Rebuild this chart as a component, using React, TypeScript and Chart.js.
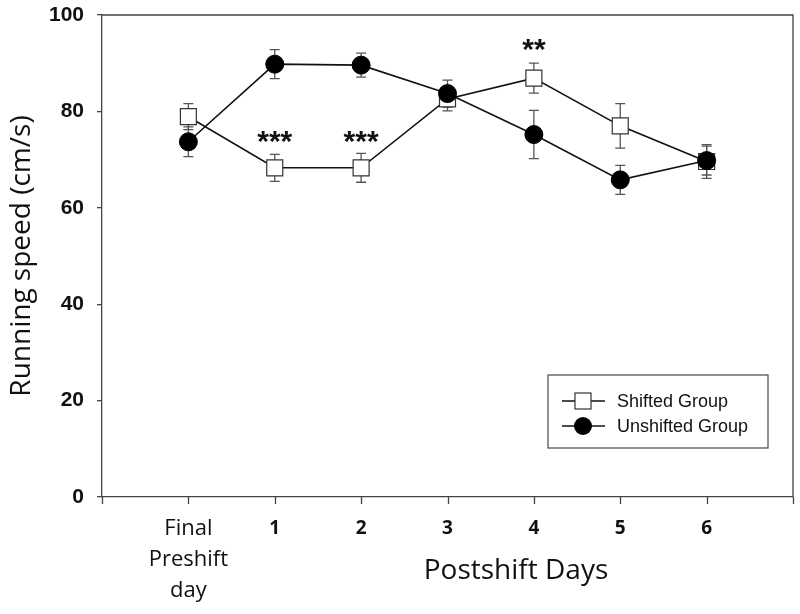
import React, { useEffect, useRef } from "react";
import { Chart, registerables } from "chart.js";

Chart.register(...registerables);

const categories: string[][] = [["Final", "Preshift", "day"], ["1"], ["2"], ["3"], ["4"], ["5"], ["6"]];
const shiftedLabel = "Shifted Group";
const unshiftedLabel = "Unshifted Group";
const shifted = [78.9, 68.3, 68.3, 82.6, 86.9, 77.0, 69.6];
const shiftedErr = [2.7, 2.8, 3.0, 2.5, 3.1, 4.6, 3.5];
const unshifted = [73.7, 89.8, 89.6, 83.7, 75.2, 65.8, 69.8];
const unshiftedErr = [3.1, 3.0, 2.5, 2.8, 5.0, 3.0, 3.0];
const yTicks = [0, 20, 40, 60, 80, 100];
const annotations = [
  { index: 1, y: 74.7, text: "***" },
  { index: 2, y: 74.7, text: "***" },
  { index: 4, y: 93.8, text: "**" },
];
const xTitle = "Postshift Days";
const yTitle = "Running speed (cm/s)";

const AXIS = "#444";
const ERR = "#555";

export default function App() {
  const ref = useRef<HTMLCanvasElement | null>(null);
  useEffect(() => {
    document.body.style.margin = "0";
    document.body.style.overflow = "hidden";
    const canvas = ref.current;
    if (!canvas) return;
    const xOf = (i: number) => i + 1;

    const errorBars = {
      id: "errorBars",
      beforeDatasetsDraw(chart: any) {
        const ctx = chart.ctx;
        const xs = chart.scales.x;
        const ys = chart.scales.y;
        const sets = [
          { v: shifted, e: shiftedErr },
          { v: unshifted, e: unshiftedErr },
        ];
        ctx.save();
        ctx.strokeStyle = ERR;
        ctx.lineWidth = 1.3;
        sets.forEach((s) => {
          s.v.forEach((v, i) => {
            const x = xs.getPixelForValue(xOf(i));
            const yt = ys.getPixelForValue(v + s.e[i]);
            const yb = ys.getPixelForValue(v - s.e[i]);
            ctx.beginPath();
            ctx.moveTo(x, yt);
            ctx.lineTo(x, yb);
            ctx.moveTo(x - 5, yt);
            ctx.lineTo(x + 5, yt);
            ctx.moveTo(x - 5, yb);
            ctx.lineTo(x + 5, yb);
            ctx.stroke();
          });
        });
        ctx.restore();
      },
      afterDraw(chart: any) {
        const ctx = chart.ctx;
        const a = chart.chartArea;
        const xs = chart.scales.x;
        const ys = chart.scales.y;
        ctx.save();
        // top and right frame
        ctx.strokeStyle = AXIS;
        ctx.lineWidth = 1.3;
        ctx.beginPath();
        ctx.moveTo(a.left, a.top);
        ctx.lineTo(a.right, a.top);
        ctx.lineTo(a.right, a.bottom);
        ctx.stroke();
        // x tick marks
        ctx.beginPath();
        xs.ticks.forEach((t: any) => {
          const x = Math.round(xs.getPixelForValue(t.value)) + 0.5;
          ctx.moveTo(x, a.bottom);
          ctx.lineTo(x, a.bottom + 7);
        });
        ctx.stroke();
        // annotations
        ctx.fillStyle = "#111";
        ctx.font = "bold 30px 'Liberation Sans', Arial, sans-serif";
        ctx.textAlign = "center";
        ctx.textBaseline = "alphabetic";
        annotations.forEach((an) => {
          const m = ctx.measureText(an.text);
          const cy = ys.getPixelForValue(an.y);
          const base = cy + (m.actualBoundingBoxAscent - m.actualBoundingBoxDescent) / 2;
          ctx.fillText(an.text, xs.getPixelForValue(xOf(an.index)), base);
        });
        // x title
        ctx.fillStyle = "#111";
        ctx.font = "28px 'Open Sans', sans-serif";
        ctx.textBaseline = "middle";
        ctx.fillText(xTitle, 516, 571);
        // legend
        const lx = 548, ly = 375, lw = 220, lh = 73;
        ctx.fillStyle = "#fff";
        ctx.fillRect(lx, ly, lw, lh);
        ctx.strokeStyle = "#555";
        ctx.lineWidth = 1.3;
        ctx.strokeRect(lx, ly, lw, lh);
        const rows = [
          { y: 401, label: shiftedLabel, sq: true },
          { y: 426, label: unshiftedLabel, sq: false },
        ];
        rows.forEach((r) => {
          ctx.strokeStyle = "#111";
          ctx.lineWidth = 1.5;
          ctx.beginPath();
          ctx.moveTo(562, r.y);
          ctx.lineTo(605, r.y);
          ctx.stroke();
          if (r.sq) {
            ctx.fillStyle = "#fff";
            ctx.fillRect(575, r.y - 8, 16, 16);
            ctx.strokeStyle = "#333";
            ctx.lineWidth = 1.2;
            ctx.strokeRect(575, r.y - 8, 16, 16);
          } else {
            ctx.fillStyle = "#000";
            ctx.beginPath();
            ctx.arc(583, r.y, 9, 0, Math.PI * 2);
            ctx.fill();
          }
          ctx.fillStyle = "#111";
          ctx.font = "18px 'Liberation Sans', Arial, sans-serif";
          ctx.textAlign = "left";
          ctx.textBaseline = "middle";
          ctx.fillText(r.label, 617, r.y + 1);
        });
        ctx.restore();
      },
    };

    const chart = new Chart(canvas, {
      type: "line",
      data: {
        datasets: [
          {
            label: shiftedLabel,
            data: shifted.map((v, i) => ({ x: xOf(i), y: v })),
            borderColor: "#111",
            borderWidth: 1.6,
            pointStyle: "rect",
            pointRadius: 11.3,
            pointBackgroundColor: "#fff",
            pointBorderColor: "#333",
            pointBorderWidth: 1.2,
            order: 1,
          },
          {
            label: unshiftedLabel,
            data: unshifted.map((v, i) => ({ x: xOf(i), y: v })),
            borderColor: "#111",
            borderWidth: 1.6,
            pointStyle: "circle",
            pointRadius: 9,
            pointBackgroundColor: "#000",
            pointBorderColor: "#000",
            pointBorderWidth: 1,
            order: 0,
          },
        ],
      },
      options: {
        animation: false,
        responsive: true,
        maintainAspectRatio: false,
        layout: { autoPadding: false, padding: { left: 0, top: 15, right: 7, bottom: 0 } },
        plugins: { legend: { display: false }, tooltip: { enabled: false } },
        scales: {
          x: {
            type: "linear",
            min: 0,
            max: categories.length + 1,
            afterFit(scale: any) {
              scale.height = 117;
              scale.paddingLeft = 0;
              scale.paddingRight = 0;
            },
            afterBuildTicks(scale: any) {
              const t = [];
              for (let i = 0; i <= categories.length + 1; i++) t.push({ value: i });
              scale.ticks = t;
            },
            border: { display: true, color: AXIS, width: 1.3 },
            grid: { drawOnChartArea: false, drawTicks: true, tickLength: 16, color: AXIS, tickColor: "rgba(0,0,0,0)", lineWidth: 1.3 },
            ticks: {
              autoSkip: false,
              maxRotation: 0,
              padding: 0,
              color: "#111",
              callback: (v: any) => {
                const i = Number(v) - 1;
                return i >= 0 && i < categories.length ? categories[i] : "";
              },
              font: (ctx: any) => {
                const v = ctx.tick ? ctx.tick.value : 0;
                if (v === 1) return { family: "'Open Sans', sans-serif", size: 22, weight: "normal", lineHeight: "31px" };
                return { family: "'Open Sans', sans-serif", size: 19, weight: "bold", lineHeight: "31px" };
              },
            },
          },
          y: {
            type: "linear",
            min: yTicks[0],
            max: yTicks[yTicks.length - 1],
            afterFit(scale: any) {
              scale.width = 102;
              scale.paddingTop = 0;
              scale.paddingBottom = 0;
            },
            afterBuildTicks(scale: any) {
              scale.ticks = yTicks.map((v) => ({ value: v }));
            },
            border: { display: true, color: AXIS, width: 1.3 },
            grid: { drawOnChartArea: false, drawTicks: true, tickLength: 5, color: AXIS, lineWidth: 1.3 },
            ticks: {
              padding: 13,
              color: "#111",
              font: { family: "'Liberation Sans', Arial, sans-serif", size: 21, weight: "bold" },
            },
            title: {
              display: true,
              text: yTitle,
              color: "#111",
              font: { family: "'Open Sans', sans-serif", size: 28, weight: "normal" },
              padding: { top: 5, bottom: 0 },
            },
          },
        },
      },
      plugins: [errorBars],
    } as any);
    return () => chart.destroy();
  }, []);

  return (
    <div style={{ position: "absolute", left: 0, top: 0, width: 800, height: 614, overflow: "hidden" }}>
      <canvas ref={ref} style={{ display: "block" }} />
    </div>
  );
}
